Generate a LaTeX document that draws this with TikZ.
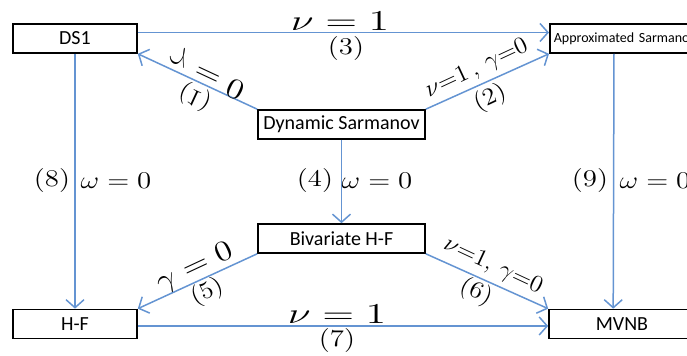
\documentclass[tikz,border=0pt]{standalone}
\usepackage{fontspec}
\setsansfont{Carlito}
\usetikzlibrary{arrows.meta,calc}
\definecolor{lineblue}{RGB}{100,148,210}
\begin{document}
\begin{tikzpicture}[x=0.5pt,y=-0.5pt,
  box/.style={draw=black,line width=0.8pt,fill=white,rectangle,inner sep=0pt,minimum height=14.5pt,font=\sffamily\fontsize{10}{12}\selectfont},
  arr/.style={draw=lineblue,line width=0.75pt,-{Straight Barb[length=4pt,width=9pt]}},
  lbl/.style={inner sep=0pt,font=\fontsize{12}{14}\selectfont},
  big/.style={inner sep=0pt,font=\fontsize{14}{16}\selectfont}]
\useasboundingbox (0,0) rectangle (687,356);
\clip (0,0) rectangle (687,356);
\node[box,minimum width=62pt] (ds1) at (75,38.5) {DS1};
\node[box,minimum width=95pt,anchor=west,text width=91pt,align=left,inner xsep=2pt,font=\sffamily\fontsize{7}{8}\selectfont] (as) at (549,38.5) {Approximated Sarmanov};
\node[box,minimum width=83.5pt] (dsar) at (341.5,124.5) {Dynamic Sarmanov};
\node[box,minimum width=83.5pt] (bh) at (341.5,238.5) {Bivariate H-F};
\node[box,minimum width=62pt] (hf) at (75,324) {H-F};
\node[box,minimum width=73pt] (mv) at (622,324) {MVNB};
% connectors
\draw[arr] ([yshift=3pt]ds1.east) -- ([yshift=3pt]as.west);
\draw[arr] (dsar.north west) -- (ds1.south east);
\draw[arr] (dsar.north east) -- (as.south west);
\draw[arr] (dsar.south) -- (bh.north);
\draw[arr] (ds1.south) -- (hf.north);
\draw[arr] ($(as.south west)+(65,0)$) -- ($(mv.north west)+(65,0)$);
\draw[arr] (bh.south west) -- (hf.north east);
\draw[arr] (bh.south east) -- (mv.north west);
\draw[arr] ([yshift=-1pt]hf.east) -- ([yshift=-1pt]mv.west);
% labels
\node[big] (nu3) at (340,21) {\scalebox{1.45}[1]{$\nu = 1$}};
\node[lbl] (n3) at (346,49) {\scalebox{1.2}[1]{$(3)$}};
\node[big] (nu7) at (337,314) {\scalebox{1.45}[1]{$\nu = 1$}};
\node[lbl] (n7) at (337,341) {\scalebox{1.2}[1]{$(7)$}};
\node[big,rotate=-25] (g1) at (207,73) {\scalebox{1.2}[-1]{$\gamma = 0$}};
\node[lbl,rotate=-25] (n1) at (195,97) {\scalebox{1.1}[-1]{$(1)$}};
\node[lbl,rotate=25] (l2) at (477,69) {\scalebox{1.05}[1]{$\nu{=}1\,,\,\gamma{=}0$}};
\node[lbl,rotate=25] (n2) at (490,98) {\scalebox{1.1}[1]{$(2)$}};
\node[big,rotate=25] (g5) at (195,268) {\scalebox{1.2}[1]{$\gamma = 0$}};
\node[lbl,rotate=25] (n5) at (207,292) {\scalebox{1.1}[1]{$(5)$}};
\node[lbl,rotate=-25] (l6) at (493,266) {\scalebox{1.05}[1]{$\nu{=}1,\,\gamma{=}0$}};
\node[lbl,rotate=-25] (n6) at (476,292) {\scalebox{1.1}[1]{$(6)$}};
\node[lbl] (n8) at (52,181) {\scalebox{1.2}[1]{$(8)$}};
\node[lbl] (w8) at (116,181) {\scalebox{1.2}[1]{$\omega = 0$}};
\node[lbl] (n4) at (315,181) {\scalebox{1.2}[1]{$(4)$}};
\node[lbl] (w4) at (377,181) {\scalebox{1.2}[1]{$\omega = 0$}};
\node[lbl] (n9) at (590,181) {\scalebox{1.2}[1]{$(9)$}};
\node[lbl] (w9) at (655,181) {\scalebox{1.2}[1]{$\omega = 0$}};
\end{tikzpicture}
\end{document}
